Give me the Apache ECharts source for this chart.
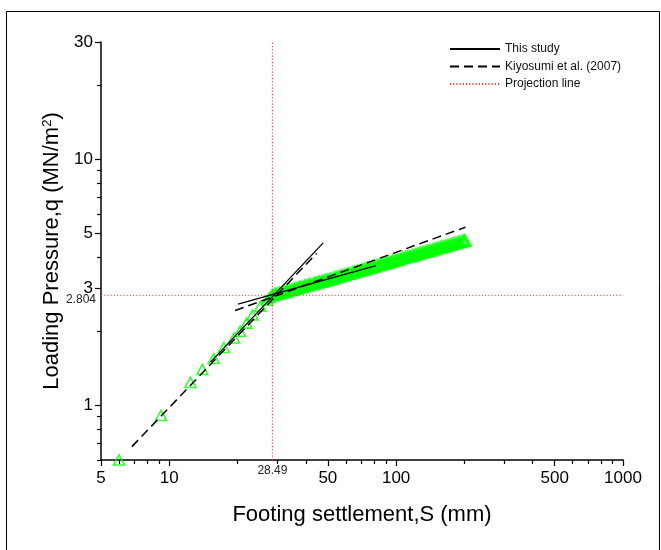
<!DOCTYPE html>
<html><head><meta charset="utf-8">
<script src="https://cdn.jsdelivr.net/npm/echarts@6/dist/echarts.min.js"></script>
<style>html,body{margin:0;padding:0;background:#fff}#c{width:661px;height:550px}</style>
</head><body><div id="c"></div>
<script>
// ---- data ----
const xMajorTicks = [5, 10, 50, 100, 500, 1000];
const xMinorTicks = [6, 7, 8, 9, 20, 30, 40, 60, 70, 80, 90, 200, 300, 400, 600, 700, 800, 900];
const yMajorTicks = [1, 3, 5, 10, 30];
const yMinorTicks = [0.6, 0.7, 0.8, 0.9, 2, 4, 6, 7, 8, 9, 20];

// early (pre-yield) test readings
const earlyS = [6.0, 9.2, 12.4, 14.0, 15.7, 17.4, 19.3, 20.5, 21.9, 23.3, 25.2, 27.0, 27.7];
const earlyQ = [0.60, 0.91, 1.24, 1.40, 1.55, 1.72, 1.88, 2.00, 2.16, 2.33, 2.53, 2.68, 2.74];
// dense post-yield test readings
const bandS = [28.4, 29.1, 29.9, 30.6, 31.4, 32.2, 33.0, 33.9, 34.8, 35.7, 36.6, 37.5, 38.5, 39.5, 40.5, 41.5,
  42.6, 43.7, 44.8, 46.0, 47.2, 48.4, 49.6, 50.9, 52.2, 53.6, 55.0, 56.4, 57.8, 59.3, 60.9, 62.4,
  64.1, 65.7, 67.4, 69.2, 71.0, 72.8, 74.7, 76.6, 78.6, 80.6, 82.7, 84.9, 87.1, 89.3, 91.6, 94.0,
  96.4, 98.9, 101.5, 104.1, 106.8, 109.6, 112.4, 115.3, 118.3, 121.4, 124.5, 127.8, 131.1, 134.5,
  138.0, 141.5, 145.2, 149.0, 152.8, 156.8, 160.8, 165.0, 169.3, 173.7, 178.2, 182.8, 187.6, 192.4,
  197.4, 201.0];
const bandQ = [2.80, 2.83, 2.84, 2.86, 2.87, 2.90, 2.91, 2.94, 2.95, 2.98, 2.99, 3.02, 3.03, 3.06, 3.07, 3.10,
  3.11, 3.14, 3.15, 3.18, 3.19, 3.22, 3.23, 3.26, 3.27, 3.30, 3.32, 3.35, 3.37, 3.39, 3.42, 3.43,
  3.47, 3.48, 3.51, 3.53, 3.56, 3.58, 3.61, 3.62, 3.66, 3.67, 3.71, 3.72, 3.76, 3.77, 3.81, 3.82,
  3.86, 3.88, 3.91, 3.93, 3.97, 3.99, 4.02, 4.04, 4.07, 4.10, 4.12, 4.16, 4.18, 4.21,
  4.24, 4.26, 4.30, 4.32, 4.36, 4.38, 4.42, 4.44, 4.47, 4.50, 4.54, 4.56, 4.60, 4.62,
  4.66, 4.68];

const studySteepS = [15.2, 47.7];
const studySteepQ = [1.50, 4.58];
const studyFlatS = [20.1, 81.5];
const studyFlatQ = [2.58, 3.70];
const kiyoSteepS = [6.84, 44.6];
const kiyoSteepQ = [0.68, 4.15];
const kiyoFlatS = [19.5, 202];
const kiyoFlatQ = [2.43, 5.30];
const projS = 28.49;
const projQ = 2.804;
const projSpanS = [5, 1000];
const projSpanQ = [0.6, 30];

// ---- chart ----
const FONT = 'Liberation Sans, Arial, sans-serif';
const PROJ = '#ff3b3b';
const GREEN = '#00ff00';
const zip = (a, b) => a.map((v, i) => [v, b[i]]);
const fmt = v => String(+(+v).toPrecision(6));
const chart = echarts.init(document.getElementById('c'), null, {renderer: 'canvas'});

function logAxis(min, max, ticks, pos, showLine, showLabel, tickLen, extra) {
  return Object.assign({
    type: 'log', logBase: 10, min: min, max: max, position: pos,
    axisLine: {show: showLine, onZero: false, lineStyle: {color: '#000', width: 1.5}},
    axisTick: {show: true, inside: false, length: tickLen, customValues: ticks,
      lineStyle: {color: '#000', width: 1.2}},
    axisLabel: {show: showLabel, customValues: ticks, color: '#000', fontSize: 17,
      fontFamily: FONT, formatter: fmt},
    splitLine: {show: false}, minorTick: {show: false}, minorSplitLine: {show: false}
  }, extra || {});
}

const projLine = {color: PROJ, width: 1.2, type: [1.2, 2], opacity: 1};

const option = {
  animation: false,
  backgroundColor: '#fff',
  grid: {left: 101, right: 38, top: 42, bottom: 90, containLabel: false},
  graphic: [{type: 'rect', shape: {x: 6.5, y: 11.5, width: 653, height: 600},
    style: {fill: 'none', stroke: '#000', lineWidth: 1}, silent: true, z: 100}],
  legend: {
    orient: 'vertical', left: 444, top: 38, itemWidth: 50, itemHeight: 14, itemGap: 5.5,
    textStyle: {fontSize: 12, color: '#111', fontFamily: FONT},
    itemStyle: {color: 'rgba(0,0,0,0)', borderWidth: 0, opacity: 0},
    data: ['This study', 'Kiyosumi et al. (2007)', 'Projection line']
  },
  xAxis: [
    logAxis(5, 1000, xMajorTicks, 'bottom', true, true, 6, {
      name: 'Footing settlement,S (mm)', nameLocation: 'middle', nameGap: 44,
      nameTextStyle: {fontSize: 22, color: '#000', fontFamily: FONT},
      axisLabel: {show: true, customValues: xMajorTicks, color: '#000', fontSize: 17,
        fontFamily: FONT, margin: 10, formatter: fmt}
    }),
    logAxis(5, 1000, xMinorTicks, 'bottom', false, false, 4)
  ],
  yAxis: [
    logAxis(0.6, 30, yMajorTicks, 'left', true, true, 6, {
      name: 'Loading Pressure,q (MN/m{sup|2})', nameLocation: 'middle', nameGap: 38,
      nameTextStyle: {fontSize: 22, color: '#000', fontFamily: FONT,
        rich: {sup: {fontSize: 13, color: '#000', fontFamily: FONT, verticalAlign: 'top', padding: [0, 0, 8, 0]}}},
      axisLabel: {show: true, customValues: yMajorTicks, color: '#000', fontSize: 17,
        fontFamily: FONT, margin: 8, formatter: fmt}
    }),
    logAxis(0.6, 30, yMinorTicks, 'left', false, false, 4)
  ],
  series: [
    {
      name: 'Test data', type: 'scatter', data: zip(earlyS, earlyQ),
      symbol: 'triangle', symbolSize: [11, 10], z: 2,
      itemStyle: {color: 'rgba(0,0,0,0)', borderColor: GREEN, borderWidth: 1.6}
    },
    {
      name: 'Test data', type: 'scatter', data: zip(bandS, bandQ),
      symbol: 'triangle', symbolSize: [11, 10], z: 2,
      itemStyle: {color: 'rgba(0,0,0,0)', borderColor: GREEN, borderWidth: 2.6}
    },
    {
      name: 'This study', type: 'line', data: zip(studySteepS, studySteepQ), symbol: 'none', z: 4,
      lineStyle: {color: '#000', width: 1.3, type: 'solid'}, itemStyle: {color: '#000'}
    },
    {
      name: 'This study', type: 'line', data: zip(studyFlatS, studyFlatQ), symbol: 'none', z: 4,
      lineStyle: {color: '#000', width: 1.3, type: 'solid'}, itemStyle: {color: '#000'}
    },
    {
      name: 'Kiyosumi et al. (2007)', type: 'line', data: zip(kiyoSteepS, kiyoSteepQ), symbol: 'none', z: 4,
      lineStyle: {color: '#000', width: 1.5, type: [9, 5]}, itemStyle: {color: '#000'}
    },
    {
      name: 'Kiyosumi et al. (2007)', type: 'line', data: zip(kiyoFlatS, kiyoFlatQ), symbol: 'none', z: 4,
      lineStyle: {color: '#000', width: 1.5, type: [9, 5]}, itemStyle: {color: '#000'}
    },
    {
      name: 'Projection line', type: 'line', data: zip(projSpanS, [projQ, projQ]), symbol: 'none', z: 3,
      lineStyle: projLine, itemStyle: {color: PROJ}
    },
    {
      name: 'Projection line', type: 'line', data: zip([projS, projS], projSpanQ), symbol: 'none', z: 3,
      lineStyle: projLine, itemStyle: {color: PROJ},
      markLine: {
        silent: true, symbol: 'none', animation: false,
        lineStyle: {color: 'rgba(0,0,0,0)', width: 0},
        label: {show: true, position: 'start', color: '#222', fontSize: 12, fontFamily: FONT, distance: 5},
        data: [
          {xAxis: projS, label: {formatter: String(projS)}},
          {yAxis: projQ, label: {formatter: '\n' + String(projQ), lineHeight: 9}}
        ]
      }
    }
  ]
};
chart.setOption(option);
</script>
</body></html>
